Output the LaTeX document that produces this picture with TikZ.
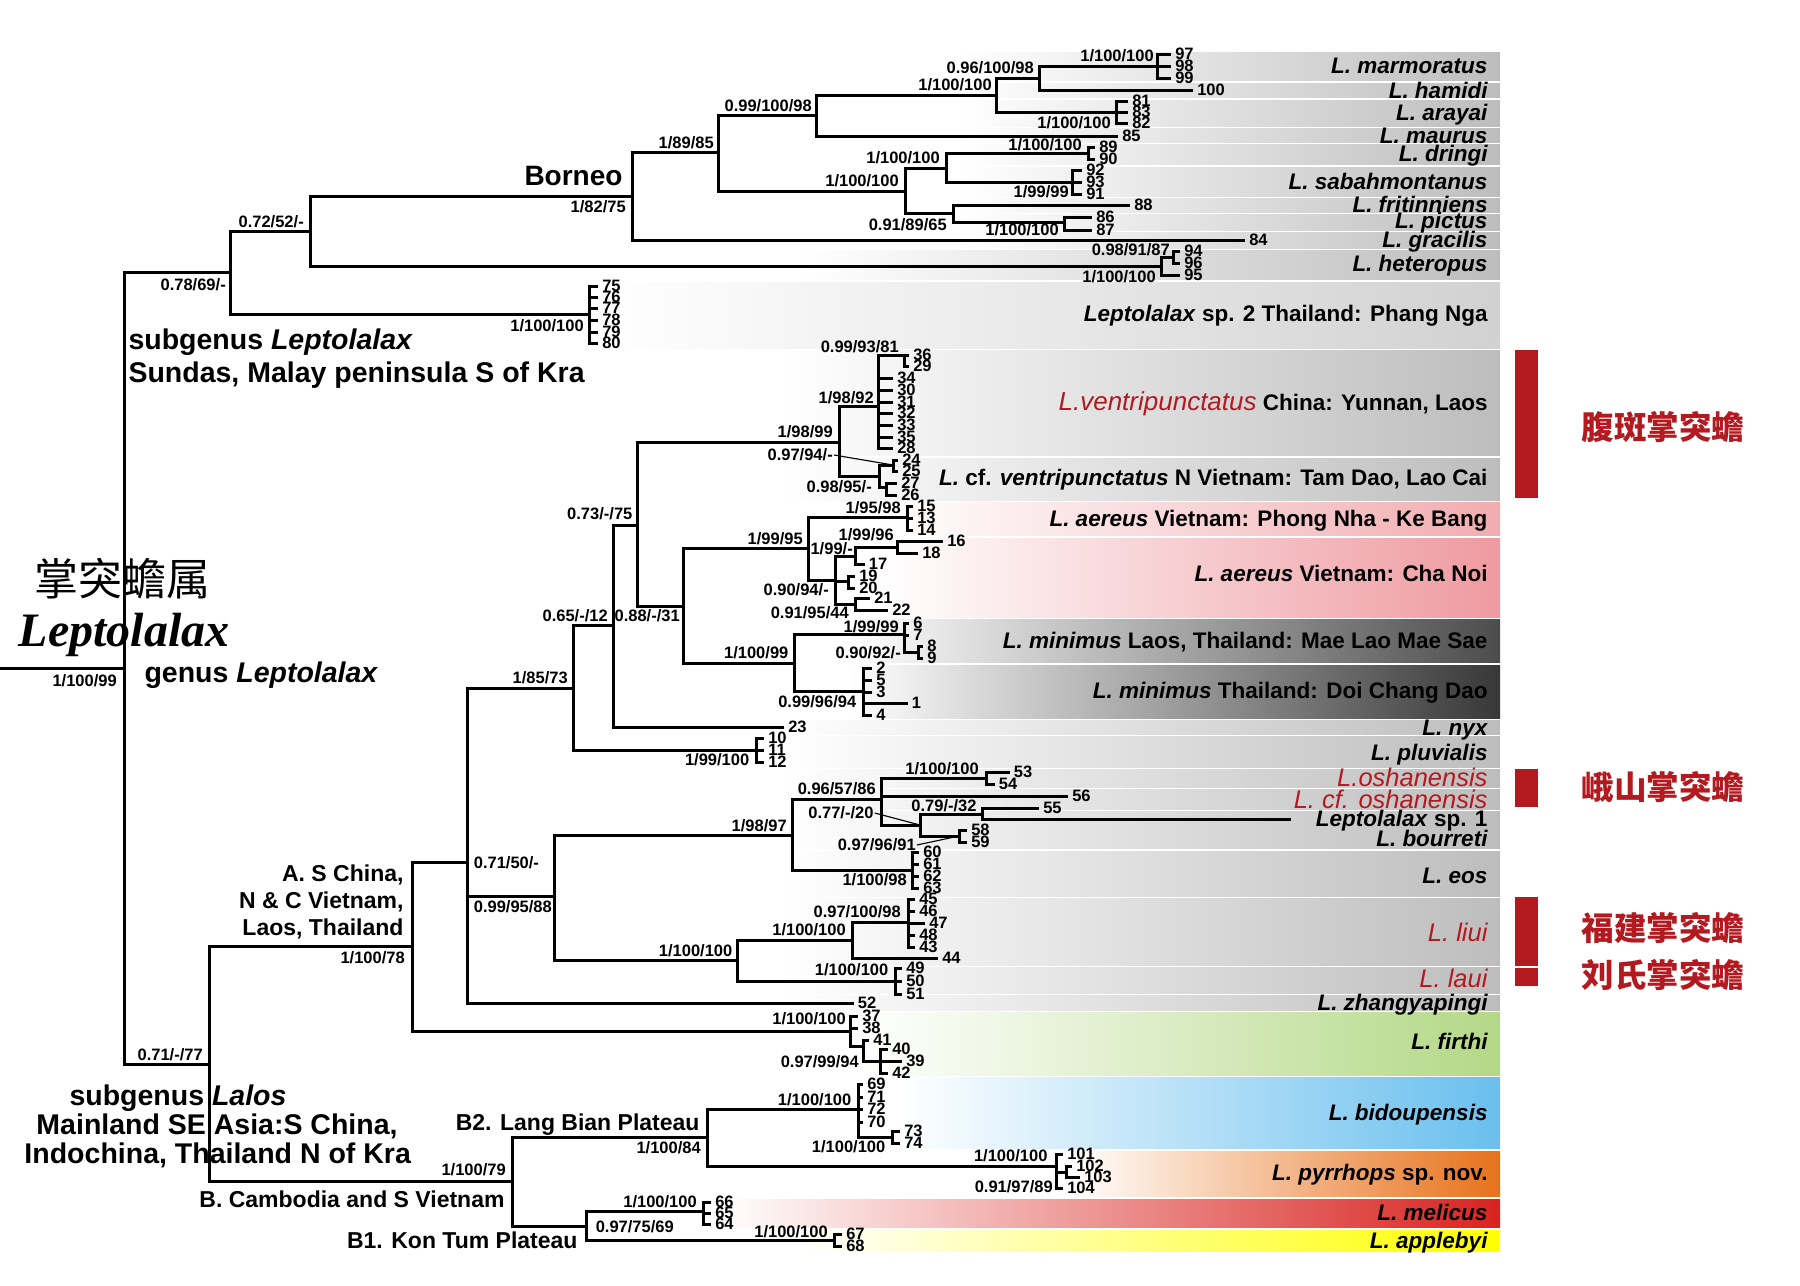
\documentclass[tikz,border=0pt]{standalone}
\usepackage{fontspec}
\setmainfont{Liberation Sans}
\newfontfamily\serifbi{Liberation Serif}
\newfontfamily\cjk{Noto Sans CJK SC}
\definecolor{cred}{HTML}{B21A20}
\definecolor{gmid}{HTML}{E0E0E0}
\definecolor{gend}{HTML}{BDBDBD}
\newcommand\LF[4]{\coordinate (t#1) at (#2,#3);\draw[br] (#4) |- (t#1);\node[lfn] (l#1) at (t#1) {#1};}
\newcommand\LFn[4]{\coordinate (t#1) at (#2,#3);\draw[br] (#4) |- (t#1);}
\newcommand\IN[4]{\coordinate (#1) at (#2,#3);\draw[br] (#4) |- (#1);}
\newcommand\BAND[5]{\fill[left color=white, middle color=#4, right color=#5] (#1,#2) rectangle (1500,#3);}
\begin{document}
\begin{tikzpicture}[x=0.4pt,y=-0.4pt,
  br/.style={line width=1.2pt},
  thinl/.style={line width=0.45pt},
  sv/.style={font=\bfseries\fontsize{6.6}{7}\selectfont, inner sep=0.3pt, text height=4.75pt, text depth=0pt, anchor=east},
  lfn/.style={font=\bfseries\fontsize{6.6}{7}\selectfont, inner xsep=1.5pt, inner ysep=0pt, text height=4.5pt, text depth=0pt, anchor=west},
  sp/.style={font=\bfseries\fontsize{9}{10}\selectfont, inner sep=0pt, text height=6.45pt, text depth=0pt, anchor=east},
  spr/.style={font=\fontsize{10.2}{11}\selectfont\itshape, text=cred, inner sep=0pt, text height=7.3pt, text depth=0pt, anchor=east},
  rg/.style={font=\bfseries\fontsize{11.4}{12}\selectfont, inner sep=0pt, text height=8.16pt, text depth=0pt, anchor=west},
  ab/.style={font=\bfseries\fontsize{9.2}{10}\selectfont, inner sep=0pt, text height=6.6pt, text depth=0pt, anchor=east},
  cjkr/.style={font=\cjk\bfseries\fontsize{13}{14}\selectfont, text=cred, inner sep=0pt, anchor=base west},
]
\fill[white] (0,0) rectangle (1800,1286);
\useasboundingbox (0,0) rectangle (1800,1286);
% ---------- bands ----------
\BAND{960}{52}{80}{gmid}{gend}
\BAND{960}{83}{97}{gmid}{gend}
\BAND{960}{100}{126}{gmid}{gend}
\BAND{960}{128}{142}{gmid}{gend}
\BAND{960}{144}{164}{gmid}{gend}
\BAND{960}{167}{196}{gmid}{gend}
\BAND{960}{198}{212}{gmid}{gend}
\BAND{960}{214}{230}{gmid}{gend}
\BAND{960}{232}{248}{gmid}{gend}
\BAND{800}{250}{279}{gmid}{gend}
\BAND{600}{282}{348}{black!7}{black!18}
\BAND{780}{350}{455}{black!12}{gend}
\BAND{780}{458}{500}{black!12}{gend}
\definecolor{pkm}{HTML}{F8D4D6}\definecolor{pke}{HTML}{F1ACB0}
\definecolor{pkm2}{HTML}{F6CACD}\definecolor{pke2}{HTML}{EE9AA0}
\BAND{880}{502}{535}{pkm}{pke}
\BAND{880}{538}{617}{pkm2}{pke2}
\BAND{850}{619}{662}{black!22}{black!70}
\BAND{850}{665}{718}{black!24}{black!78}
\BAND{780}{720}{734}{gmid}{gend}
\BAND{780}{736}{767}{gmid}{gend}
\BAND{780}{769}{787}{gmid}{gend}
\BAND{780}{789}{809}{gmid}{gend}
\BAND{780}{811}{827}{gmid}{gend}
\BAND{780}{828}{848}{gmid}{gend}
\BAND{780}{851}{896}{gmid}{gend}
\BAND{780}{898}{965}{gmid}{gend}
\BAND{780}{967}{993}{gmid}{gend}
\BAND{780}{995}{1010}{gmid}{gend}
\definecolor{gnm}{HTML}{D6EAB9}\definecolor{gne}{HTML}{B3D886}
\definecolor{blm}{HTML}{BDE2F6}\definecolor{ble}{HTML}{69BFEE}
\definecolor{orm}{HTML}{F3BE94}\definecolor{ore}{HTML}{E7721B}
\definecolor{rdm}{HTML}{EEA9A9}\definecolor{rde}{HTML}{D8231F}
\definecolor{yle}{HTML}{FFFF00}
\BAND{860}{1012}{1075}{gnm}{gne}
\BAND{900}{1077}{1148}{blm}{ble}
\BAND{1070}{1151}{1196}{orm}{ore}
\BAND{720}{1199}{1227}{rdm}{rde}
\BAND{800}{1230}{1251}{yle}{yle}
% ---------- red bars ----------
\fill[cred] (1515,350) rectangle (1538,498);
\fill[cred] (1515,769) rectangle (1538,807);
\fill[cred] (1515,897) rectangle (1538,966);
\fill[cred] (1515,968) rectangle (1538,986);
\node[cjkr] (c1) at (1581,439) {腹斑掌突蟾};
\node[cjkr] (c2) at (1581,799) {峨山掌突蟾};
\node[cjkr] (c3) at (1581,940) {福建掌突蟾};
\node[cjkr] (c4) at (1581,987) {刘氏掌突蟾};
% ---------- tree: upper ----------
\coordinate (root0) at (0,668);
\coordinate (root) at (124,668);
\draw[br] (root0) -- (root);
\IN{n078}{230}{272.7}{root}
\IN{n071}{209}{1064}{root}
\IN{n072}{310}{231}{n078}
\IN{ns2}{589}{314}{n078}
\IN{nb}{632}{196.7}{n072}
\IN{nh}{1161}{266}{n072}
\IN{n189}{718.6}{152.7}{nb}
\LF{84}{1245}{240}{nb}
\IN{n099}{816.7}{115}{n189}
\IN{n1a}{905.6}{191.7}{n189}
\IN{n1b}{996.6}{95}{n099}
\LF{85}{1118}{136}{n099}
\IN{n096}{1039}{78}{n1b}
\IN{nar}{1116}{112}{n1b}
\IN{nma}{1157.5}{66}{n096}
\LF{100}{1193}{90}{n096}
\LF{97}{1171}{54}{nma}
\LF{98}{1171}{66}{nma}
\LF{99}{1171}{78}{nma}
\LF{81}{1128}{101}{nar}
\LF{83}{1128}{112}{nar}
\LF{82}{1128}{123}{nar}
\IN{n1c}{946.8}{168}{n1a}
\IN{n091}{953}{213}{n1a}
\IN{ndr}{1088}{153}{n1c}
\LF{89}{1095}{147}{ndr}
\LF{90}{1095}{159}{ndr}
\IN{nsb}{1072.5}{182}{n1c}
\LF{92}{1082}{170}{nsb}
\LF{93}{1082}{182}{nsb}
\LF{91}{1082}{194}{nsb}
\LF{88}{1130}{205}{n091}
\IN{npi}{1064.6}{222}{n091}
\LF{86}{1092}{217}{npi}
\LF{87}{1092}{230}{npi}
\IN{nh2}{1173}{257}{nh}
\LF{95}{1180}{275}{nh}
\LF{94}{1180}{251}{nh2}
\LF{96}{1180}{263}{nh2}
\LF{75}{598}{286}{ns2}
\LF{76}{598}{297}{ns2}
\LF{77}{598}{308}{ns2}
\LF{78}{598}{320}{ns2}
\LF{79}{598}{332}{ns2}
\LF{80}{598}{343}{ns2}
% ---------- tree: lower ----------
\IN{naa}{412}{946.7}{n071}
\IN{nbb}{512}{1181.7}{n071}
\IN{nr}{467}{862.7}{naa}
\IN{nf1}{850}{1031}{naa}
\IN{na}{573.6}{688}{nr}
\IN{ns}{554.7}{896.7}{nr}
\LF{52}{853.6}{1003}{nr}
\IN{nb6}{613.6}{625}{na}
\IN{npl}{756.8}{750}{na}
\IN{nc}{637.8}{525}{nb6}
\LF{23}{784}{727}{nb6}
\IN{nd}{839.6}{442}{nc}
\IN{ne}{683.5}{606}{nc}
\IN{nf}{878.5}{406.7}{nd}
\IN{ng}{879}{476.7}{nd}
\IN{nf2}{904}{355}{nf}
\LF{36}{909}{355}{nf2}
\LF{29}{909}{366}{nf2}
\LF{34}{893}{378}{nf}
\LF{30}{893}{390}{nf}
\LF{31}{893}{402}{nf}
\LF{32}{893}{413}{nf}
\LF{33}{893}{425}{nf}
\LF{35}{893}{437}{nf}
\LF{28}{893}{448}{nf}
\IN{ng1}{893}{465}{ng}
\LF{24}{898}{460}{ng1}
\LF{25}{898}{471}{ng1}
\IN{ng2}{886}{487}{ng}
\LF{27}{897}{483}{ng2}
\LF{26}{897}{495}{ng2}
\IN{nh0}{808.6}{548}{ne}
\IN{ni}{794}{663}{ne}
\IN{nh1}{907.5}{517.7}{nh0}
\LF{15}{913}{506}{nh1}
\LF{13}{913}{518}{nh1}
\LF{14}{913}{530}{nh1}
\IN{nj}{835}{580}{nh0}
\IN{nk}{855.6}{556}{nj}
\IN{nm}{848}{581}{nj}
\IN{nn}{855.6}{604}{nj}
\IN{nl}{897.8}{547}{nk}
\LF{16}{943}{541}{nl}
\LF{18}{918}{553}{nl}
\LF{17}{864.6}{564}{nk}
\LF{19}{855}{576}{nm}
\LF{20}{855}{588}{nm}
\LF{21}{870}{598}{nn}
\LF{22}{888}{610}{nn}
\IN{no}{904}{634}{ni}
\LF{6}{909}{623}{no}
\LF{7}{909}{635}{no}
\IN{np}{918}{652}{no}
\LF{8}{923}{646}{np}
\LF{9}{923}{658}{np}
\IN{nq}{863}{691}{ni}
\LF{2}{872}{668}{nq}
\LF{5}{872}{680}{nq}
\LF{3}{872}{692}{nq}
\LF{1}{907.5}{703}{nq}
\LF{4}{872}{715}{nq}
\LF{10}{764}{738}{npl}
\LF{11}{764}{750}{npl}
\LF{12}{764}{762}{npl}
\IN{nt}{792.6}{835}{ns}
\IN{nu}{737}{960}{ns}
\IN{nv}{881}{799}{nt}
\IN{nt2}{912.5}{870.7}{nt}
\LF{60}{919}{852}{nt2}
\LF{61}{919}{864}{nt2}
\LF{62}{919}{876}{nt2}
\LF{63}{919}{888}{nt2}
\IN{nv1}{986}{778}{nv}
\LF{53}{1009.6}{772}{nv1}
\LF{54}{994.6}{784}{nv1}
\LF{56}{1068}{796}{nv}
\IN{nw}{920}{825}{nv}
\IN{nx}{982}{814}{nw}
\LF{55}{1039}{808}{nx}
\LFn{sp1}{1291}{819}{nx}
\IN{nw2}{959}{836}{nw}
\LF{58}{967}{830}{nw2}
\LF{59}{967}{842}{nw2}
\IN{ny}{852.6}{940}{nu}
\IN{nz}{895.8}{981}{nu}
\LF{49}{902}{968}{nz}
\LF{50}{902}{981}{nz}
\LF{51}{902}{994}{nz}
\IN{ny1}{908.4}{922.7}{ny}
\LF{45}{915}{899}{ny1}
\LF{46}{915}{911}{ny1}
\LF{47}{925}{923}{ny1}
\LF{48}{915}{935}{ny1}
\LF{43}{915}{947}{ny1}
\LF{44}{938}{958}{ny}
\LF{37}{858}{1016}{nf1}
\LF{38}{858}{1028}{nf1}
\IN{nf2b}{863}{1046}{nf1}
\LF{41}{869}{1040}{nf2b}
\IN{nf3}{880}{1061}{nf2b}
\LF{40}{888}{1049}{nf3}
\LF{39}{902}{1061}{nf3}
\LF{42}{888}{1073}{nf3}
\IN{ncc}{707}{1137.7}{nbb}
\IN{ndd}{586}{1226.7}{nbb}
\IN{nee}{858}{1109}{ncc}
\IN{npy}{1056.6}{1166}{ncc}
\LF{69}{863}{1084}{nee}
\LF{71}{863}{1097}{nee}
\LF{72}{863}{1109}{nee}
\LF{70}{863}{1122}{nee}
\IN{nee2}{892}{1137}{nee}
\LF{73}{900}{1131}{nee2}
\LF{74}{900}{1143}{nee2}
\LF{101}{1063}{1154}{npy}
\LF{104}{1063}{1188}{npy}
\IN{npy2}{1066}{1172}{npy}
\LF{102}{1072}{1166}{npy2}
\LF{103}{1080}{1177}{npy2}
\IN{nmel}{703.5}{1211.7}{ndd}
\LF{66}{711}{1202}{nmel}
\LF{65}{711}{1213}{nmel}
\LF{64}{711}{1224}{nmel}
\IN{nap}{834}{1240}{ndd}
\LF{67}{842}{1234}{nap}
\LF{68}{842}{1246}{nap}
% ---------- support values ----------
\node[sv] (b1) at (1155,56) {1/100/100};
\node[sv] (b2) at (1035,67.5) {0.96/100/98};
\node[sv] (b3) at (993,85) {1/100/100};
\node[sv] (b4) at (1112,123) {1/100/100};
\node[sv] (b5) at (813,106) {0.99/100/98};
\node[sv] (b6) at (715,143) {1/89/85};
\node[sv] (b7) at (1083,145) {1/100/100};
\node[sv] (b8) at (941,158) {1/100/100};
\node[sv] (b9) at (900,181) {1/100/100};
\node[sv] (b10) at (1070,192) {1/99/99};
\node[sv] (b11) at (948,225) {0.91/89/65};
\node[sv] (b12) at (1060,230) {1/100/100};
\node[sv] (b13) at (1171,250) {0.98/91/87};
\node[sv] (b14) at (1157,277) {1/100/100};
\node[sv] (b15) at (627,207) {1/82/75};
\node[sv] (b16) at (305,221.7) {0.72/52/-};
\node[sv] (b17) at (227,285) {0.78/69/-};
\node[sv] (b18) at (585,326) {1/100/100};
\node[sv] (b19) at (118,681) {1/100/99};
\node[sv] (b20) at (900,347) {0.99/93/81};
\node[sv] (b21) at (875,398) {1/98/92};
\node[sv] (b22) at (834,432) {1/98/99};
\node[sv] (b23) at (834,455) {0.97/94/-};
\node[sv] (b24) at (873,487) {0.98/95/-};
\node[sv] (b25) at (633.6,514) {0.73/-/75};
\node[sv] (b26) at (902,508) {1/95/98};
\node[sv] (b27) at (804,539) {1/99/95};
\node[sv] (b28) at (895,535) {1/99/96};
\node[sv] (b29) at (854,549) {1/99/-};
\node[sv] (b30) at (830,590) {0.90/94/-};
\node[sv] (b31) at (850,613) {0.91/95/44};
\node[sv] (b32) at (609,616) {0.65/-/12};
\node[sv] (b33) at (681,616) {0.88/-/31};
\node[sv] (b34) at (900,627) {1/99/99};
\node[sv] (b35) at (789.6,653) {1/100/99};
\node[sv] (b36) at (902,653) {0.90/92/-};
\node[sv] (b37) at (569,678) {1/85/73};
\node[sv] (b38) at (857.5,702) {0.99/96/94};
\node[sv] (b39) at (750.5,760) {1/99/100};
\node[sv] (b40) at (980,769) {1/100/100};
\node[sv] (b41) at (877,789) {0.96/57/86};
\node[sv] (b42) at (977.8,806) {0.79/-/32};
\node[sv] (b43) at (874.7,813) {0.77/-/20};
\node[sv] (b44) at (788,826) {1/98/97};
\node[sv] (b45) at (917,845) {0.97/96/91};
\node[sv,anchor=west] (b46) at (472.6,863) {0.71/50/-};
\node[sv] (b47) at (908,880) {1/100/98};
\node[sv,anchor=west] (b48) at (472.6,907) {0.99/95/88};
\node[sv] (b49) at (902,911.7) {0.97/100/98};
\node[sv] (b50) at (847,930) {1/100/100};
\node[sv] (b51) at (733.6,950.7) {1/100/100};
\node[sv] (b52) at (889.6,970) {1/100/100};
\node[sv] (b53) at (406,958) {1/100/78};
\node[sv] (b54) at (847,1019) {1/100/100};
\node[sv] (b55) at (860,1062) {0.97/99/94};
\node[sv] (b56) at (204,1055) {0.71/-/77};
\node[sv] (b57) at (852.6,1100) {1/100/100};
\node[sv] (b58) at (702,1148) {1/100/84};
\node[sv] (b59) at (886.6,1147) {1/100/100};
\node[sv] (b60) at (1048.7,1156) {1/100/100};
\node[sv] (b61) at (507,1170) {1/100/79};
\node[sv] (b62) at (1054,1187) {0.91/97/89};
\node[sv] (b63) at (698,1201.7) {1/100/100};
\node[sv,anchor=west] (b64) at (594.5,1227) {0.97/75/69};
\node[sv] (b65) at (829,1232) {1/100/100};
\draw[thinl] (b23.east) -- (ng1);
\draw[thinl] (b43.east) -- (nw);
\draw[thinl] (b45.east) -- (nw2);
% ---------- species labels ----------
\node[sp] (s1) at (1488,65) {\itshape L. marmoratus};
\node[sp] (s2) at (1488,90) {\itshape L. hamidi};
\node[sp] (s3) at (1488,112) {\itshape L. arayai};
\node[sp] (s4) at (1488,135) {\itshape L. maurus};
\node[sp] (s5) at (1488,153) {\itshape L. dringi};
\node[sp] (s6) at (1488,181) {\itshape L. sabahmontanus};
\node[sp] (s7) at (1488,204) {\itshape L. fritinniens};
\node[sp] (s8) at (1488,220) {\itshape L. pictus};
\node[sp] (s9) at (1488,239) {\itshape L. gracilis};
\node[sp] (s10) at (1488,263) {\itshape L. heteropus};
\node[sp] (s11) at (1488,313) {\textit{Leptolalax} sp. 2 Thailand: Phang Nga};
\node[sp] (s12) at (1488,402) {{\mdseries\itshape\color{cred}\fontsize{10.4}{11}\selectfont L.ventripunctatus} China: Yunnan, Laos};
\node[sp] (s13) at (1488,477) {\textit{L.} cf. \textit{ventripunctatus} N Vietnam: Tam Dao, Lao Cai};
\node[sp] (s14) at (1488,518) {\textit{L. aereus} Vietnam: Phong Nha - Ke Bang};
\node[sp] (s15) at (1488,573) {\textit{L. aereus} Vietnam: Cha Noi};
\node[sp] (s16) at (1488,640) {\textit{L. minimus} Laos, Thailand: Mae Lao Mae Sae};
\node[sp] (s17) at (1488,690) {\textit{L. minimus} Thailand: Doi Chang Dao};
\node[sp] (s18) at (1488,727) {\itshape L. nyx};
\node[sp] (s19) at (1488,752) {\itshape L. pluvialis};
\node[spr] (s20) at (1488,777) {L.oshanensis};
\node[spr] (s21) at (1488,799) {L. cf. oshanensis};
\node[sp] (s22) at (1488,818) {\textit{Leptolalax} sp. 1};
\node[sp] (s23) at (1488,838) {\itshape L. bourreti};
\node[sp] (s24) at (1488,875) {\itshape L. eos};
\node[spr] (s25) at (1488,932) {L. liui};
\node[spr] (s26) at (1488,978) {L. laui};
\node[sp] (s27) at (1488,1002) {\itshape L. zhangyapingi};
\node[sp] (s28) at (1488,1041) {\itshape L. firthi};
\node[sp] (s29) at (1488,1112) {\itshape L. bidoupensis};
\node[sp] (s30) at (1488,1172) {\textit{L. pyrrhops} sp. nov.};
\node[sp] (s31) at (1488,1212) {\itshape L. melicus};
\node[sp] (s32) at (1488,1240) {\itshape L. applebyi};
% ---------- region labels ----------
\node[font=\bfseries\fontsize{11.2}{12}\selectfont, inner sep=0pt, text height=8pt, text depth=0pt, anchor=east] (borneo) at (623,175) {Borneo};
\node[rg] (r1) at (128,339) {subgenus \textit{Leptolalax}};
\node[rg] (r2) at (128,372) {Sundas, Malay peninsula S of Kra};
\node[anchor=base, inner sep=0pt] (g1) at (122.5,595) {\cjk\fontsize{17.6}{18}\selectfont 掌突蟾属};
\node[anchor=base, inner sep=0pt] (g2) at (124,646) {\serifbi\bfseries\itshape\fontsize{19.2}{20}\selectfont Leptolalax};
\node[rg] (r3) at (144,672) {genus \textit{Leptolalax}};
\node[ab] (a1) at (404,873) {A. S China,};
\node[ab] (a2) at (404,900) {N \& C Vietnam,};
\node[ab] (a3) at (404,927) {Laos, Thailand};
\node[rg] (r4) at (69,1095) {subgenus \textit{Lalos}};
\node[rg] (r5) at (36,1124) {Mainland SE Asia:S China,};
\node[rg] (r6) at (24,1153) {Indochina, Thailand N of Kra};
\node[ab] (bb1) at (700,1122) {B2. Lang Bian Plateau};
\node[ab] (bb2) at (505,1199) {B. Cambodia and S Vietnam};
\node[ab] (bb3) at (578,1240) {B1. Kon Tum Plateau};
\end{tikzpicture}
\end{document}
